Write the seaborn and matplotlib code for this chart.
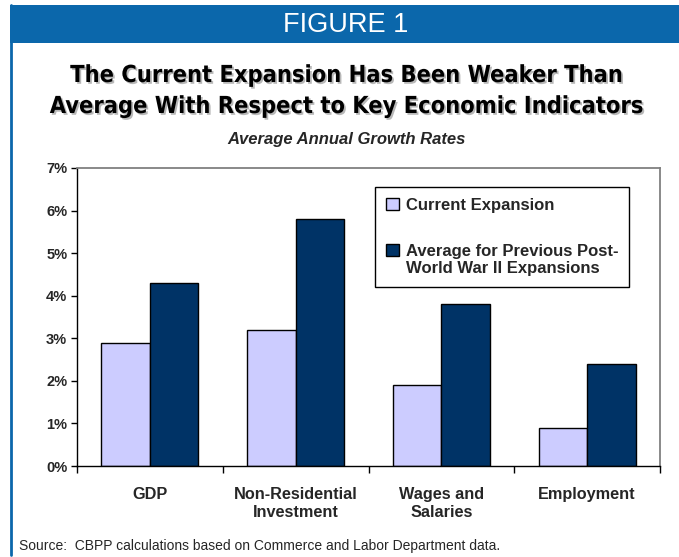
import matplotlib
matplotlib.use("Agg")
import matplotlib.pyplot as plt
import matplotlib.patheffects as pe
from matplotlib import font_manager as fm
from matplotlib.patches import Rectangle
from matplotlib.lines import Line2D
from matplotlib.ticker import FixedLocator, PercentFormatter
import pandas as pd
import seaborn as sns

# Data
categories = ["GDP", "Non-Residential\nInvestment", "Wages and\nSalaries", "Employment"]
current_expansion = [2.9, 3.2, 1.9, 0.9]
previous_average = [4.3, 5.8, 3.8, 2.4]
series_names = ["Current Expansion", "Average for Previous Post-\nWorld War II Expansions"]
y_ticks = [0, 1, 2, 3, 4, 5, 6, 7]

df = pd.DataFrame({
    "category": categories * 2,
    "series": [series_names[0]] * 4 + [series_names[1]] * 4,
    "growth": current_expansion + previous_average,
})

sns.set_theme(style="white")
plt.rcParams["font.family"] = ["Liberation Sans", "DejaVu Sans"]

W, H = 679, 557
fig = plt.figure(figsize=(W / 100, H / 100), dpi=100)
fig.patch.set_facecolor("white")


def fx(px):
    return px / W


def fy(py):
    return 1 - py / H


# Pick a condensed bold face for the headline when one is installed
cond = [f for f in fm.fontManager.ttflist
        if f.weight in ("bold", 700) and f.style == "normal"
        and (f.stretch in ("condensed", "semi-condensed", "extra-condensed")
             or "Condensed" in f.name or "Narrow" in f.name)]
if cond:
    head_font = fm.FontProperties(fname=cond[0].fname, size=16.9)
else:
    head_font = fm.FontProperties(family="Liberation Sans", weight="bold", size=16)

# Header band and left border
band_blue = "#0B67AB"
fig.add_artist(Rectangle((fx(10), fy(43)), 1, 38 / H, transform=fig.transFigure,
                         facecolor=band_blue, edgecolor="none"))
fig.add_artist(Line2D([fx(11), fx(11)], [fy(5), fy(555)], transform=fig.transFigure,
                      color=band_blue, lw=2))
fig.text(fx(346), fy(32), "FIGURE 1", color="white", fontsize=19.5,
         ha="center", va="baseline")

# Titles
shadow = [pe.withSimplePatchShadow(offset=(1.3, -1.3), shadow_rgbFace="#A0A0A0", alpha=0.75)]
fig.text(fx(347), fy(82), "The Current Expansion Has Been Weaker Than",
         fontproperties=head_font, ha="center", va="baseline", color="black",
         path_effects=shadow)
fig.text(fx(347), fy(113), "Average With Respect to Key Economic Indicators",
         fontproperties=head_font, ha="center", va="baseline", color="black",
         path_effects=shadow)
fig.text(fx(347), fy(144), "Average Annual Growth Rates", fontsize=12,
         fontweight="bold", fontstyle="italic", ha="center", va="baseline")

# Bars
ax = fig.add_axes([fx(77), fy(466), (660 - 77) / W, (466 - 168) / H])
sns.barplot(data=df, x="category", y="growth", hue="series",
            palette=["#CCCCFF", "#003366"], width=0.667, saturation=1,
            edgecolor="black", linewidth=1, ax=ax, legend=True)

ax.set_ylim(0, 7)
ax.set_xlim(-0.5, 3.5)
ax.set_yticks(y_ticks)
ax.yaxis.set_major_formatter(PercentFormatter(decimals=0))
ax.set_xlabel("")
ax.set_ylabel("")
ax.set_facecolor("white")

for side in ["left", "bottom"]:
    ax.spines[side].set_color("black")
    ax.spines[side].set_linewidth(1)
for side in ["top", "right"]:
    ax.spines[side].set_color("#808080")
    ax.spines[side].set_linewidth(1.3)

ax.tick_params(axis="y", which="major", left=True, length=4.3, width=1, color="black",
               pad=2.7, labelsize=10.5)
ax.tick_params(axis="x", which="major", bottom=False, length=0, pad=15, labelsize=11.7)
ax.xaxis.set_minor_locator(FixedLocator([-0.5, 0.5, 1.5, 2.5, 3.5]))
ax.tick_params(axis="x", which="minor", bottom=True, length=5, width=1, color="black")
for lbl in ax.get_yticklabels() + ax.get_xticklabels():
    lbl.set_fontweight("bold")
for lbl in ax.get_xticklabels():
    lbl.set_linespacing(1.3)
    lbl.set_va("top")

handles, labels = ax.get_legend_handles_labels()
leg = ax.legend(handles, labels, loc="upper left",
                bbox_to_anchor=(fx(375), fy(187)), bbox_transform=fig.transFigure,
                frameon=True, fancybox=False, edgecolor="black", framealpha=1,
                prop={"weight": "bold", "size": 12}, handlelength=0.8, handleheight=0.75,
                handletextpad=0.4, labelspacing=1.85, borderpad=0.65, borderaxespad=0)
leg.get_frame().set_linewidth(1)
# Put each swatch beside the first line of its label
for column in leg._legend_handle_box.get_children():
    for row in column.get_children():
        row.align = "top"

fig.text(fx(19), fy(550), "Source:  CBPP calculations based on Commerce and Labor Department data.",
         fontsize=10, ha="left", va="baseline")

fig.savefig("out.png", dpi=100, facecolor="white")
